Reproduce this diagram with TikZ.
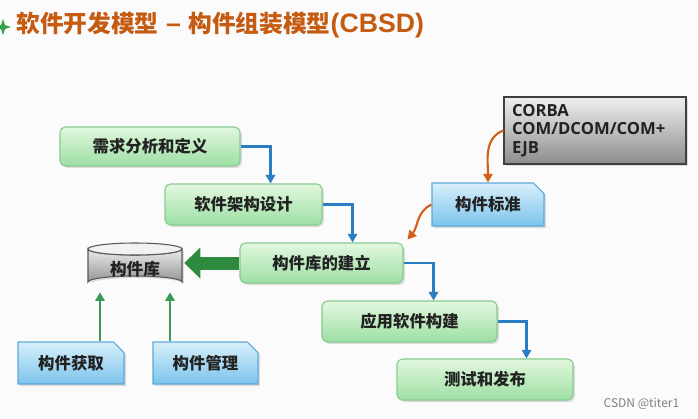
\documentclass[tikz,border=0pt]{standalone}
\usepackage{fontspec}
\newfontfamily\cjk{Noto Sans CJK SC}
\newfontfamily\osans{Open Sans}
\newfontfamily\lsans{Liberation Sans}
\usetikzlibrary{shapes.misc,shadows,arrows.meta,calc}
\definecolor{bgc}{HTML}{FBFBFB}
\definecolor{titlec}{HTML}{C55A11}
\definecolor{gtop}{HTML}{E2F7DE}
\definecolor{gbot}{HTML}{9DDFA4}
\definecolor{gbord}{HTML}{86CB8E}
\definecolor{btop}{HTML}{D8EFFA}
\definecolor{bbot}{HTML}{7CC4EC}
\definecolor{bbord}{HTML}{5FA8D8}
\definecolor{flowc}{HTML}{2A7DC2}
\definecolor{orangec}{HTML}{D2601A}
\definecolor{upc}{HTML}{3A9A55}
\definecolor{bigc}{HTML}{2D8A3E}
\definecolor{txtc}{HTML}{222222}
\begin{document}
\begin{tikzpicture}[x=0.75pt,y=-0.75pt,
  shad/.style={drop shadow={opacity=0.25,shadow xshift=1.5pt,shadow yshift=-1.5pt}},
  gbox/.style={shad,rectangle,rounded corners=4pt,draw=gbord,line width=0.8pt,
    top color=gtop,bottom color=gbot,text=txtc,
    font=\cjk\bfseries\fontsize{12.3}{14}\selectfont},
  bbox/.style={shad,chamfered rectangle,chamfered rectangle corners=north east,
    chamfered rectangle sep=4pt,draw=bbord,line width=0.8pt,
    top color=btop,bottom color=bbot,text=txtc,
    font=\cjk\bfseries\fontsize{12.3}{14}\selectfont},
  flow/.style={draw=flowc,line width=1.6pt,-{Triangle[length=6.5pt,width=7pt]}},
  oflow/.style={draw=orangec,line width=1.6pt,-{Triangle[length=6.5pt,width=7pt]}},
  uflow/.style={draw=upc,line width=1.6pt,-{Triangle[length=6.5pt,width=7pt]}},
  bigarrow/.style={draw=bigc,line width=9.75pt,-{Triangle[length=12pt,width=22.5pt]}}
]
\useasboundingbox (0,0) rectangle (698,418);
\fill[bgc] (0,0) rectangle (698,418);
% title
\fill[upc!90!green] (3,19) -- (5,25) -- (11,27) -- (5,29) -- (3,35) -- (1,29) -- (-5,27) -- (1,25) -- cycle;
\node[anchor=west,inner sep=0pt,text=titlec,font=\cjk\bfseries\fontsize{17.8}{20}\selectfont] (title) at (16,25)
  {软件开发模型{\lsans\fontsize{20}{20}\selectfont\ –\ }构件组装模型{\lsans\fontsize{20}{20}\selectfont(CBSD)}};
% green process boxes
\node[gbox,minimum width=135pt,minimum height=29.25pt] (b1) at (150,146.5) {需求分析和定义};
\node[gbox,minimum width=117.75pt,minimum height=30.75pt] (b2) at (243.5,204.5) {软件架构设计};
\node[gbox,minimum width=122.25pt,minimum height=30pt] (b3) at (321.5,263) {构件库的建立};
\node[gbox,minimum width=131.25pt,minimum height=30.75pt] (b4) at (409.5,321.5) {应用软件构建};
\node[gbox,minimum width=132pt,minimum height=30.75pt] (b5) at (485,379.5) {测试和发布};
% blue boxes
\node[bbox,minimum width=84pt,minimum height=32.25pt] (std) at (488,204.5) {构件标准};
\node[bbox,minimum width=79.5pt,minimum height=31.5pt] (get) at (71,363) {构件获取};
\node[bbox,minimum width=78.75pt,minimum height=31.5pt] (mgmt) at (205.5,363) {构件管理};
% gray box
\node[shad,rectangle,draw=black!75,line width=0.8pt,top color=black!6,bottom color=black!45,
  text=txtc,align=left,text width=124.5pt,inner xsep=6pt,minimum height=50.25pt,
  font=\osans\bfseries\fontsize{12.5}{14}\selectfont] (corba) at (595,130.5)
  {CORBA\\COM/DCOM/COM+\\EJB};
% cylinder (component library)
\node[rectangle,minimum width=70.5pt,minimum height=33.75pt,inner sep=0pt] (lib) at (135,265.5) {};
\path[shad,top color=black!8,bottom color=black!42,draw=black!65,line width=0.8pt]
  (88,249) -- (88,282) arc[start angle=180,end angle=360,x radius=47,y radius=6]
  -- (182,249) arc[start angle=0,end angle=180,x radius=47,y radius=6] -- cycle;
\draw[fill=black!5,draw=black!65,line width=0.8pt] (135,249) ellipse[x radius=47,y radius=6];
\node[text=txtc,font=\cjk\bfseries\fontsize{12.5}{14}\selectfont] at (135,269) {构件库};
% flow connectors
\draw[flow] (b1.east) -- ++(30,0) coordinate (c1) -- (c1 |- b2.north);
\draw[flow] (b2.east) -- ++(30,0) coordinate (c2) -- (c2 |- b3.north);
\draw[flow] (b3.east) -- ++(30,0) coordinate (c3) -- (c3 |- b4.north);
\draw[flow] (b4.east) -- ++(29,0) coordinate (c4) -- (c4 |- b5.north);
% orange connectors
\draw[oflow] (corba.west) to[out=200,in=90] (std.north);
\draw[oflow] (std.west) to[out=205,in=50] ($(b3.north east)+(4,-3)$);
% big arrow
\draw[bigarrow] (b3.west) -- ($(b3.west -| lib.east)+(2,0)$);
% up arrows
\coordinate (l1) at ($(lib.south)+(-35,4)$);
\coordinate (l2) at ($(lib.south)+(35,4)$);
\draw[uflow] (get.north -| l1) -- (l1);
\draw[uflow] (mgmt.north -| l2) -- (l2);
% watermark
\node[anchor=east,text=black!50,font=\cjk\fontsize{9}{10}\selectfont] (wm) at (684,404) {CSDN @titer1};
\end{tikzpicture}
\end{document}
